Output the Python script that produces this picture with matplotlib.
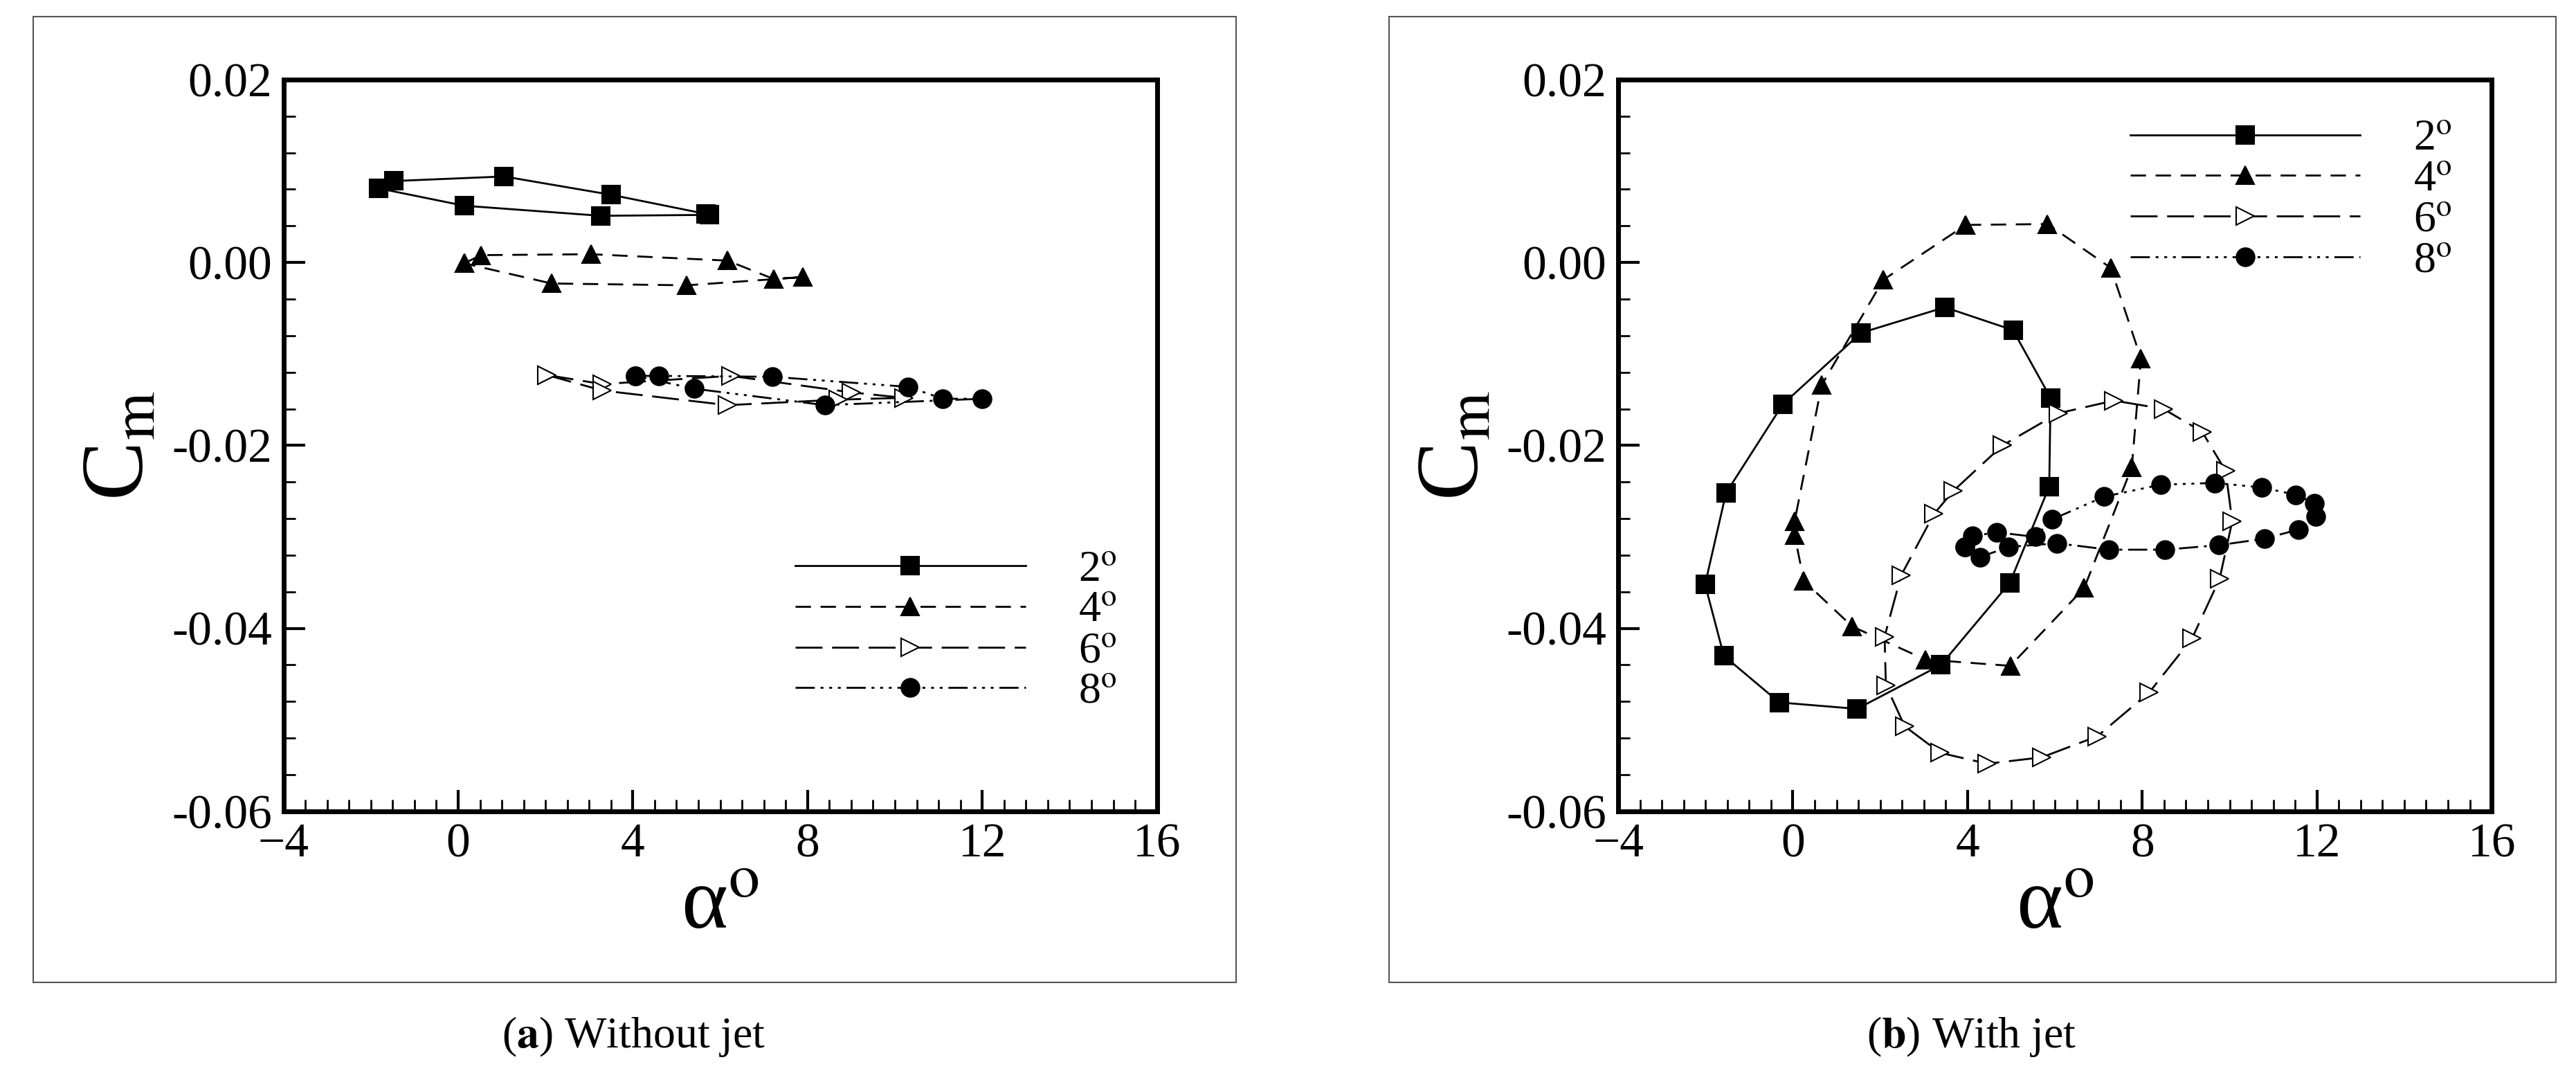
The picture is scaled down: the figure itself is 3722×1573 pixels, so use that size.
import matplotlib.pyplot as plt
from matplotlib.patches import Rectangle
from matplotlib.ticker import MultipleLocator

plt.rcParams['font.family'] = ['Liberation Serif', 'DejaVu Serif']
plt.rcParams['mathtext.fontset'] = 'stix'

# (a) without jet: alpha, Cm loops
a2_nj = [-1.82, -1.48, 1.05, 3.5, 5.68, 5.75, 3.27, 0.14, -1.82]
c2_nj = [0.0081, 0.0089, 0.0094, 0.0074, 0.0053, 0.0052, 0.0051, 0.0062, 0.0081]
a4_nj = [0.14, 0.52, 3.04, 6.17, 7.22, 7.9, 5.23, 2.14, 0.14]
c4_nj = [-0.0001, 0.0008, 0.0009, 0.0002, -0.0018, -0.0016, -0.0025, -0.0023, -0.0001]
a6_nj = [2.03, 3.3, 6.24, 9.0, 10.2, 8.7, 6.17, 3.3, 2.03]
c6_nj = [-0.0123, -0.0133, -0.0124, -0.0142, -0.0148, -0.0150, -0.0156, -0.0140, -0.0123]
a8_nj = [4.06, 4.6, 7.2, 10.3, 11.1, 12.0, 8.4, 5.4, 4.06]
c8_nj = [-0.0124, -0.0124, -0.0125, -0.0136, -0.0149, -0.0149, -0.0156, -0.0138, -0.0124]

# (b) with jet
a2_j = [1.56, 3.48, 5.04, 5.9, 5.87, 4.97, 3.39, 1.47, -0.31, -1.58, -2.01, -1.53, -0.23, 1.56]
c2_j = [-0.0077, -0.0049, -0.0074, -0.0148, -0.0245, -0.035, -0.044, -0.0488, -0.0481, -0.043,
        -0.0352, -0.0252, -0.0155, -0.0077]
a4_j = [3.96, 5.83, 7.28, 7.97, 7.76, 6.67, 4.98, 3.03, 1.36, 0.25, 0.04, 0.04, 0.66, 2.07, 3.96]
c4_j = [0.0041, 0.0042, -0.0006, -0.0105, -0.0224, -0.0356, -0.0441, -0.0434, -0.0398, -0.0348,
        -0.0298, -0.0283, -0.0134, -0.0019, 0.0041]
a6_j = [4.8, 3.67, 3.23, 2.48, 2.1, 2.13, 2.56, 3.37, 4.45, 5.7, 6.97, 8.16, 9.14, 9.77, 10.06,
        9.91, 9.37, 8.48, 7.35, 6.07, 4.8]
c6_j = [-0.020, -0.025, -0.0275, -0.0342, -0.0409, -0.0462, -0.0507, -0.0536, -0.0548, -0.0541,
        -0.0518, -0.047, -0.0411, -0.0346, -0.0283, -0.0228, -0.0185, -0.016, -0.0151, -0.0165, -0.020]
a8_j = [3.94, 4.12, 4.67, 5.55, 5.93, 7.13, 8.42, 9.66, 10.74, 11.52, 11.94, 11.98, 11.57, 10.8,
        9.76, 8.52, 7.24, 6.05, 4.94, 4.29, 3.94]
c8_j = [-0.0311, -0.0299, -0.0295, -0.030, -0.0281, -0.0256, -0.0243, -0.0241, -0.0246, -0.0254,
        -0.0263, -0.0278, -0.0292, -0.0302, -0.0309, -0.0314, -0.0314, -0.0307, -0.0311, -0.0322, -0.0311]

labels = ['2$^{\\rm o}$', '4$^{\\rm o}$', '6$^{\\rm o}$', '8$^{\\rm o}$']
styles = [
    dict(ls='-', marker='s', mfc='k'),
    dict(ls=(0, (8, 5)), marker='^', mfc='k'),
    dict(ls=(0, (14, 5)), marker='>', mfc='white'),
    dict(ls=(0, (10, 3, 1.5, 3, 1.5, 3, 1.5, 3)), marker='o', mfc='k'),
]

fig = plt.figure(figsize=(37.23, 15.73), dpi=100)

for bx, bw in [(0.0128, 0.467), (0.539, 0.453)]:
    fig.patches.append(Rectangle((bx, 0.098), bw, 0.887, transform=fig.transFigure,
                                 fill=False, ec='#555555', lw=1.5))


def panel(left, data, legloc, bbox):
    ax = fig.add_axes([left, 0.255, 0.339, 0.672])
    for (a, c), lab, st in zip(data, labels, styles):
        ax.plot(a, c, color='k', lw=2.0, ls=st['ls'], marker=st['marker'],
                mfc=st['mfc'], mec='k', ms=19, mew=1.5, label=lab)
    ax.set_xlim(-4, 16)
    ax.set_ylim(-0.06, 0.02)
    ax.xaxis.set_major_locator(MultipleLocator(4))
    ax.xaxis.set_minor_locator(MultipleLocator(0.5))
    ax.yaxis.set_major_locator(MultipleLocator(0.02))
    ax.yaxis.set_minor_locator(MultipleLocator(0.004))
    ax.yaxis.set_major_formatter(plt.FuncFormatter(lambda v, p: f'{v:.2f}'))
    ax.tick_params(which='both', direction='in', labelsize=50, top=False, right=False, pad=12)
    ax.tick_params(which='major', length=22, width=3)
    ax.tick_params(which='minor', length=12, width=2)
    for s in ax.spines.values():
        s.set_linewidth(5)
    ax.set_xlabel('α$^{\\rm o}$', fontsize=92, labelpad=0)
    ax.set_ylabel('C$_{\\rm m}$', fontsize=92, labelpad=10)
    ax.legend(loc=legloc, bbox_to_anchor=bbox, frameon=False, fontsize=46,
              handlelength=5.2, handletextpad=1.2, labelspacing=0.0)
    return ax


panel(0.110, [(a2_nj, c2_nj), (a4_nj, c4_nj), (a6_nj, c6_nj), (a8_nj, c8_nj)],
      'lower right', (1.0, 0.08))
panel(0.628, [(a2_j, c2_j), (a4_j, c4_j), (a6_j, c6_j), (a8_j, c8_j)],
      'upper right', (1.0, 1.0))

fig.text(0.246, 0.048, r'($\mathbf{a}$) Without jet', ha='center', va='center', fontsize=46)
fig.text(0.765, 0.048, r'($\mathbf{b}$) With jet', ha='center', va='center', fontsize=46)

fig.savefig('out.png', dpi=100)
